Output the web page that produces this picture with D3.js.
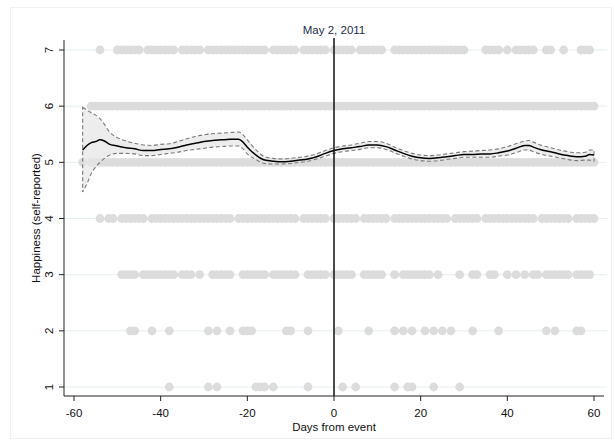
<!DOCTYPE html>
<html>
<head>
<meta charset="utf-8">
<script src="https://cdn.jsdelivr.net/npm/d3@7"></script>
<style>
  body { margin: 0; background: #fff; }
  svg { display: block; }
  text { font-family: "Liberation Sans", Arial, Helvetica, sans-serif; }
</style>
</head>
<body>
<svg id="chart" width="615" height="446"></svg>
<script>
// Axis ticks
const xTicks = [-60, -40, -20, 0, 20, 40, 60];
const yTicks = [1, 2, 3, 4, 5, 6, 7];
const eventLabel = "May 2, 2011";
const xTitle = "Days from event";
const yTitle = "Happiness (self-reported)";

// Individual responses: days on which each happiness score was reported
const row7 = [-54, -50, -49, -48, -47, -46, -45, -43, -42, -41, -40, -39, -38, -37,
  -35, -34, -33, -32, -31, -29, -28, -27, -26, -25, -24, -23, -22, -21, -20, -19, -18, -17, -16,
  -14, -13, -12, -11, -10, -9, -7, -6, -5, -4, -3, -2, 0, 1, 2, 3, 4, 6, 7, 8, 9, 10, 11,
  14, 15, 16, 17, 18, 19, 20, 21, 22, 23, 24, 25, 26, 27, 28, 29, 30, 35, 36, 37, 38, 40,
  42, 43, 44, 45, 46, 49, 50, 53, 57, 58, 59];
const row6 = [-56, -55, -54, -53, -52, -51, -50, -49, -48, -47, -46, -45, -44, -43, -42, -41,
  -40, -39, -38, -37, -36, -35, -34, -33, -32, -31, -30, -29, -28, -27, -26, -25, -24, -23,
  -22, -21, -20, -19, -18, -17, -16, -15, -14, -13, -12, -11, -10, -9, -8, -7, -6, -5, -4,
  -3, -2, -1, 0, 1, 2, 3, 4, 5, 6, 7, 8, 9, 10, 11, 12, 13, 14, 15, 16, 17, 18, 19, 20, 21,
  22, 23, 24, 25, 26, 27, 28, 29, 30, 31, 32, 33, 34, 35, 36, 37, 38, 39, 40, 41, 42, 43, 44,
  45, 46, 47, 48, 49, 50, 51, 52, 53, 54, 55, 56, 57, 58, 59, 60];
const row5 = [-58, -56, -55, -54, -53, -52, -51, -50, -49, -48, -47, -46, -45, -44, -43, -42, -41,
  -40, -39, -38, -37, -36, -35, -34, -33, -32, -31, -30, -29, -28, -27, -26, -25, -24, -23,
  -22, -21, -20, -19, -18, -17, -16, -15, -14, -13, -12, -11, -10, -9, -8, -7, -6, -5, -4,
  -3, -2, -1, 0, 1, 2, 3, 4, 5, 6, 7, 8, 9, 10, 11, 12, 13, 14, 15, 16, 17, 18, 19, 20, 21,
  22, 23, 24, 25, 26, 27, 28, 29, 30, 31, 32, 33, 34, 35, 36, 37, 38, 39, 40, 41, 42, 43, 44,
  45, 46, 47, 48, 49, 50, 51, 52, 53, 54, 55, 56, 57, 58, 59, 60];
const row4 = [-54, -52, -51, -49, -48, -47, -46, -45, -44, -42, -41, -40, -39, -38, -37, -36,
  -35, -34, -33, -32, -31, -30, -29, -28, -27, -26, -25, -24, -22, -21, -20, -19, -18, -17,
  -16, -15, -14, -13, -12, -11, -10, -9, -7, -6, -5, -4, -3, -2, 0, 1, 2, 3, 4, 5,
  7, 8, 9, 10, 11, 12, 14, 15, 16, 17, 18, 19, 20, 21, 22, 23, 24, 25, 26, 28, 29, 30, 31,
  32, 33, 35, 36, 37, 38, 39, 40, 41, 42, 43, 44, 45, 46, 48, 49, 50, 51, 52, 53, 54,
  56, 57, 58, 59, 60];
const row3 = [-49, -48, -47, -46, -44, -43, -42, -41, -40, -39, -38, -37, -35, -34, -33, -31,
  -28, -27, -26, -25, -24, -21, -20, -19, -18, -17, -16, -14, -13, -12, -11, -10, -9,
  -6, -5, -4, -3, -2, 0, 1, 2, 3, 4, 7, 8, 9, 10, 11, 14, 16, 17, 18, 19, 20, 21, 22, 24,
  29, 32, 33, 36, 37, 40, 42, 44, 46, 47, 49, 50, 51, 52, 53, 54, 56, 57, 58, 59];
const row2 = [-47, -46, -42, -38, -29, -27, -24, -21, -20, -19, -11, -10, -6, 1, 8, 14, 16, 18,
  21, 23, 25, 27, 32, 38, 49, 51, 56, 57];
const row1 = [-38, -29, -27, -18, -17, -16, -14, -6, 2, 5, 14, 17, 18, 23, 29];
const responseRows = [
  { score: 7, days: row7 }, { score: 6, days: row6 }, { score: 5, days: row5 },
  { score: 4, days: row4 }, { score: 3, days: row3 }, { score: 2, days: row2 },
  { score: 1, days: row1 }
];

// Local smooth of happiness with 95% confidence band
const smoothDays = [-58, -57, -56, -55, -54, -53, -52, -50, -48, -46, -44, -42, -40, -38, -36,
  -34, -32, -30, -28, -26, -24, -22, -21, -20, -18, -16, -14, -12, -10, -8, -6, -4, -2, 0,
  2, 4, 6, 8, 10, 12, 14, 16, 18, 20, 22, 24, 26, 28, 30, 32, 34, 36, 38, 40, 42, 44, 45,
  46, 48, 50, 52, 54, 56, 58, 59, 60];
const smoothMean = [5.22, 5.30, 5.35, 5.37, 5.40, 5.38, 5.33, 5.29, 5.26, 5.24, 5.21, 5.21,
  5.23, 5.24, 5.27, 5.31, 5.34, 5.37, 5.39, 5.40, 5.41, 5.41, 5.36, 5.27, 5.13, 5.04, 5.02,
  5.01, 5.02, 5.04, 5.06, 5.10, 5.16, 5.21, 5.24, 5.26, 5.28, 5.31, 5.31, 5.28, 5.22, 5.16,
  5.11, 5.08, 5.07, 5.08, 5.10, 5.12, 5.14, 5.14, 5.15, 5.15, 5.17, 5.20, 5.25, 5.30, 5.30,
  5.27, 5.22, 5.19, 5.15, 5.12, 5.10, 5.11, 5.14, 5.13];
const ciUpper = [5.98, 5.93, 5.88, 5.84, 5.78, 5.68, 5.56, 5.44, 5.38, 5.34, 5.31, 5.30,
  5.32, 5.33, 5.37, 5.42, 5.46, 5.49, 5.51, 5.52, 5.53, 5.54, 5.49, 5.40, 5.22, 5.10, 5.07,
  5.06, 5.07, 5.09, 5.11, 5.15, 5.21, 5.26, 5.29, 5.31, 5.34, 5.37, 5.37, 5.34, 5.27, 5.21,
  5.16, 5.13, 5.12, 5.13, 5.15, 5.17, 5.19, 5.20, 5.21, 5.22, 5.24, 5.28, 5.33, 5.38, 5.39,
  5.36, 5.30, 5.26, 5.22, 5.19, 5.17, 5.18, 5.22, 5.22];
const ciLower = [4.47, 4.62, 4.80, 4.92, 5.00, 5.07, 5.12, 5.16, 5.16, 5.15, 5.12, 5.12,
  5.14, 5.16, 5.18, 5.21, 5.23, 5.25, 5.27, 5.28, 5.29, 5.29, 5.24, 5.15, 5.05, 4.98, 4.97,
  4.97, 4.98, 5.00, 5.02, 5.06, 5.11, 5.16, 5.19, 5.21, 5.23, 5.26, 5.26, 5.23, 5.17, 5.11,
  5.06, 5.03, 5.02, 5.03, 5.05, 5.07, 5.09, 5.09, 5.09, 5.09, 5.11, 5.13, 5.17, 5.22, 5.22,
  5.19, 5.14, 5.11, 5.08, 5.05, 5.03, 5.04, 5.04, 5.02];

const smooth = smoothDays.map((d, i) => ({ day: d, mean: smoothMean[i], lo: ciLower[i], hi: ciUpper[i] }));

const svg = d3.select("#chart");

// Layout
const x = d3.scaleLinear().domain([-60, 60]).range([74, 594]);
const y = d3.scaleLinear().domain([1, 7]).range([387, 50]);
const axisLeftX = 64, axisBottomY = 396, plotTop = 40, plotRight = 604;

// Outer frame
svg.append("rect")
  .attr("x", 10.5).attr("y", 7.5).attr("width", 601).attr("height", 431)
  .attr("fill", "none").attr("stroke", "#eef2f4").attr("stroke-width", 1);

// Horizontal grid lines
svg.append("g").selectAll("line").data(yTicks).join("line")
  .attr("x1", axisLeftX).attr("x2", plotRight + 3)
  .attr("y1", d => y(d)).attr("y2", d => y(d))
  .attr("stroke", "#e4eff2").attr("stroke-width", 1);

// Response dots
const dotG = svg.append("g");
responseRows.forEach(r => {
  dotG.append("g").selectAll("circle").data(r.days).join("circle")
    .attr("cx", d => x(d)).attr("cy", y(r.score)).attr("r", 4.4)
    .attr("fill", "#dcdcdc");
});

// Confidence band
const band = d3.area().x(d => x(d.day)).y0(d => y(d.lo)).y1(d => y(d.hi))
  .curve(d3.curveMonotoneX);
svg.append("path").datum(smooth).attr("d", band)
  .attr("fill", "#e6e6e6").attr("fill-opacity", 0.7)
  .attr("stroke", "#7a7a7a").attr("stroke-width", 1.1)
  .attr("stroke-dasharray", "4,2.5");

// Smoothed mean
const meanLine = d3.line().x(d => x(d.day)).y(d => y(d.mean)).curve(d3.curveMonotoneX);
svg.append("path").datum(smooth).attr("d", meanLine)
  .attr("fill", "none").attr("stroke", "#000").attr("stroke-width", 1.5);

// Event marker
svg.append("line")
  .attr("x1", x(0)).attr("x2", x(0)).attr("y1", plotTop - 2).attr("y2", axisBottomY)
  .attr("stroke", "#111").attr("stroke-width", 1.5);
svg.append("text")
  .attr("x", x(0)).attr("y", 34).attr("text-anchor", "middle")
  .attr("font-size", 11.5).attr("fill", "#1e2d4e").text(eventLabel);

// Y axis
const yAxis = svg.append("g");
yAxis.append("line").attr("x1", axisLeftX).attr("x2", axisLeftX)
  .attr("y1", plotTop).attr("y2", axisBottomY).attr("stroke", "#222").attr("stroke-width", 1);
yAxis.selectAll(".tick").data(yTicks).join("line")
  .attr("x1", axisLeftX - 5).attr("x2", axisLeftX).attr("y1", d => y(d)).attr("y2", d => y(d))
  .attr("stroke", "#222");
yAxis.selectAll(".lbl").data(yTicks).join("text")
  .attr("transform", d => `translate(53,${y(d)}) rotate(-90)`)
  .attr("text-anchor", "middle").attr("font-size", 11.5).attr("fill", "#111")
  .text(d => d);
svg.append("text")
  .attr("transform", `translate(40,${(plotTop + axisBottomY) / 2}) rotate(-90)`)
  .attr("text-anchor", "middle").attr("font-size", 11.5).attr("fill", "#111")
  .text(yTitle);

// X axis
const xAxis = svg.append("g");
xAxis.append("line").attr("x1", axisLeftX).attr("x2", plotRight)
  .attr("y1", axisBottomY).attr("y2", axisBottomY).attr("stroke", "#222");
xAxis.selectAll(".tick").data(xTicks).join("line")
  .attr("x1", d => x(d)).attr("x2", d => x(d)).attr("y1", axisBottomY).attr("y2", axisBottomY + 5)
  .attr("stroke", "#222");
xAxis.selectAll(".lbl").data(xTicks).join("text")
  .attr("x", d => x(d)).attr("y", 417).attr("text-anchor", "middle")
  .attr("font-size", 11.5).attr("fill", "#111").text(d => d);
svg.append("text")
  .attr("x", x(0)).attr("y", 431).attr("text-anchor", "middle")
  .attr("font-size", 11.5).attr("fill", "#111").text(xTitle);
</script>
</body>
</html>
